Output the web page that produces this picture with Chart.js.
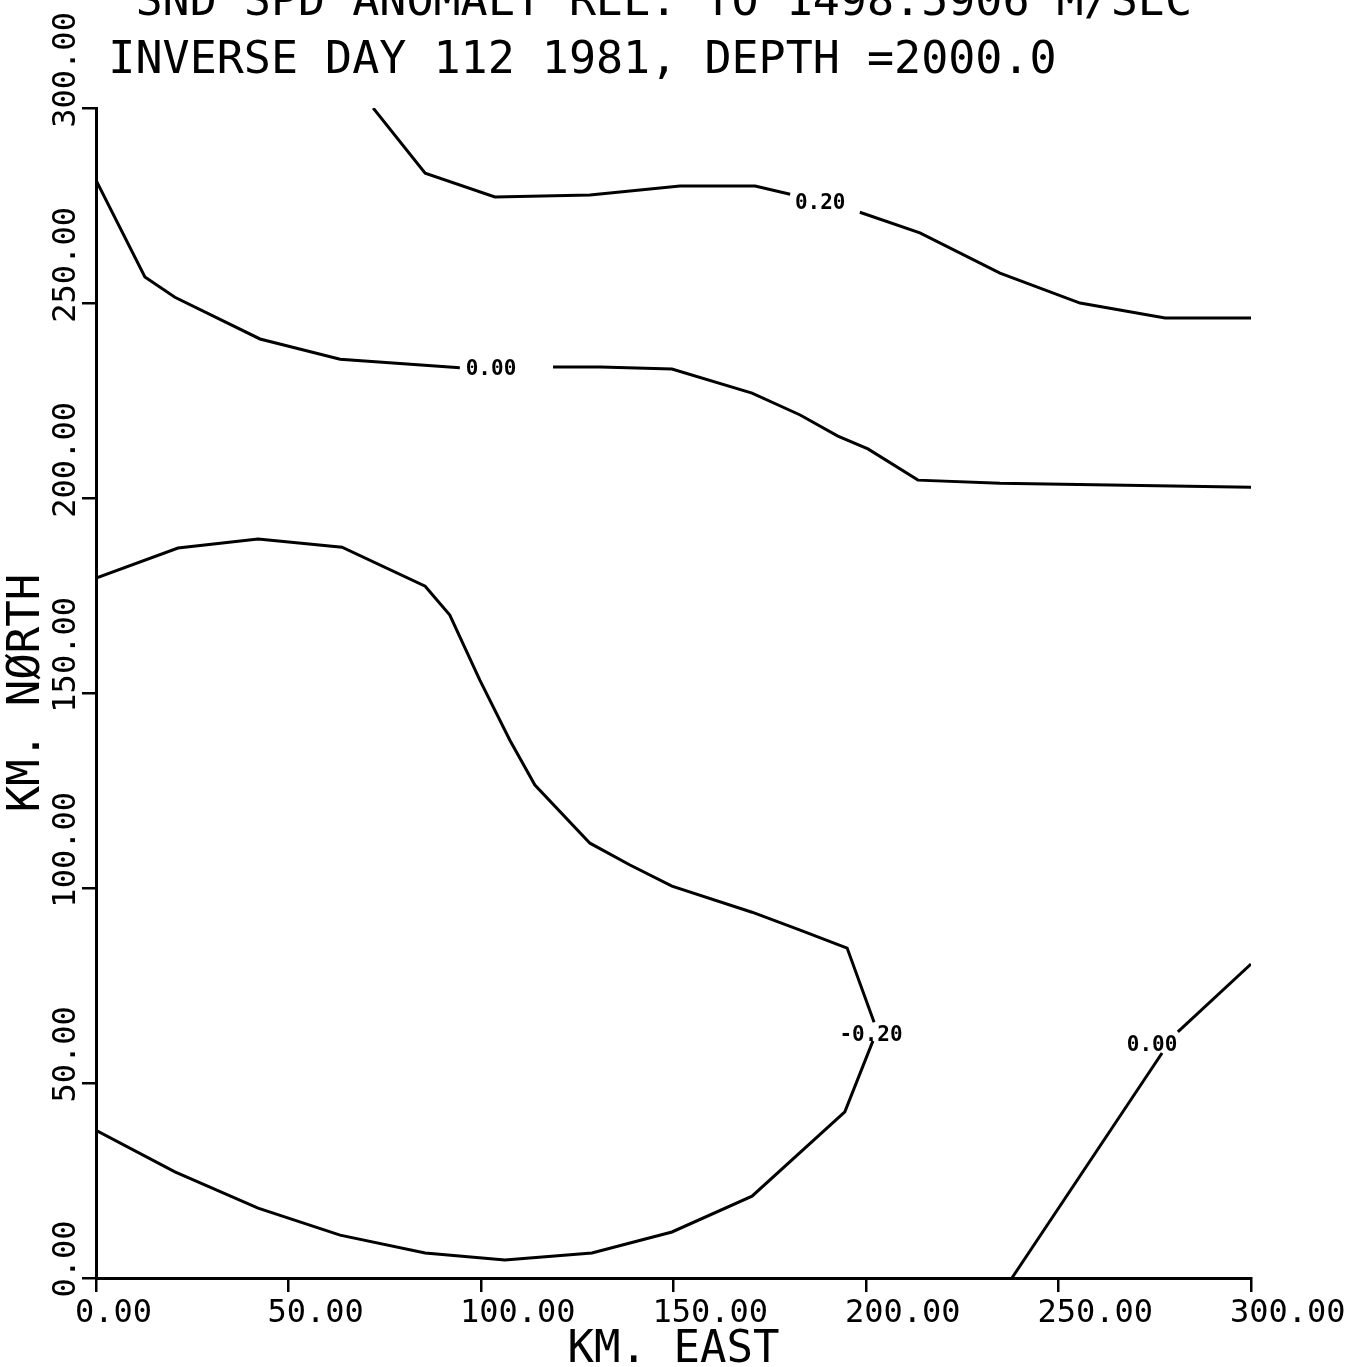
<!DOCTYPE html>
<html><head><meta charset="utf-8">
<script src="https://cdn.jsdelivr.net/npm/chart.js@4.4.1/dist/chart.umd.min.js"></script>
<style>
html,body{margin:0;padding:0;background:#fff;overflow:hidden;width:1351px;height:1367px;}
#wrap{position:absolute;left:0;top:-30px;width:1351px;height:1397px;}
</style></head><body>
<div id="wrap"><canvas id="c"></canvas></div>
<script>
// ---- text ----
const titleLines = ['     SND SPD ANOMALY REL. TO 1498.5906 M/SEC', '    INVERSE DAY 112 1981, DEPTH =2000.0'];
const xAxisTitle = 'KM. EAST';
const yAxisTitle = 'KM. NØRTH';

// ---- ticks ----
const tickValues = [0, 50, 100, 150, 200, 250, 300];
const tickLabels = ['0.00', '50.00', '100.00', '150.00', '200.00', '250.00', '300.00'];

// ---- contour lines [km east, km north], split where the level label sits ----
const c020a = [[72, 300], [85.5, 283.3], [103.6, 277.2], [128.3, 277.7], [151.7, 280.0], [171.2, 280.0], [180.3, 277.9]];
const c020b = [[198.4, 273.3], [214.0, 268.0], [234.8, 257.7], [255.6, 250.0], [277.7, 246.2], [300, 246.2]];

const c000a = [[0, 281.5], [12.7, 256.7], [20.5, 251.5], [42.6, 240.8], [63.4, 235.6], [94.5, 233.4]];
const c000b = [[118.7, 233.6], [131.0, 233.6], [149.6, 233.1], [170.4, 226.9], [182.9, 221.3], [192.7, 215.9], [200.5, 212.6], [213.5, 204.6], [234.8, 203.8], [300, 202.8]];

const cm020a = [[0, 179.5], [21.3, 187.2], [42.1, 189.5], [63.9, 187.4], [85.5, 177.4], [91.9, 170.0], [99.7, 153.3], [107.5, 137.9], [114.0, 126.4], [128.3, 111.5], [138.7, 105.9], [149.6, 100.5], [170.4, 93.8], [182.9, 89.2], [195.1, 84.6], [202.1, 65.6]];
const cm020b = [[201.8, 60.8], [194.5, 42.6], [170.4, 21.0], [149.6, 11.8], [128.8, 6.4], [106.2, 4.6], [85.5, 6.4], [63.4, 11.0], [42.1, 17.9], [20.5, 27.2], [0, 37.9]];

const c000ra = [[237.9, 0], [276.9, 57.7]];
const c000rb = [[281.0, 63.1], [300, 80.5]];

// ---- contour level labels ----
const levelText = ['0.20', '0.00', '-0.20', '0.00'];
const levelX = [188.1, 102.6, 201.3, 274.3];
const levelY = [275.4, 232.9, 62.2, 59.7];

const segments = [c020a, c020b, c000a, c000b, cm020a, cm020b, c000ra, c000rb];

const MONO = '"DejaVu Sans Mono", "Liberation Mono", monospace';

const levelLabelPlugin = {
  id: 'levelLabels',
  afterDatasetsDraw(chart) {
    const {ctx, scales: {x, y}} = chart;
    ctx.save();
    ctx.fillStyle = '#000';
    ctx.font = 'bold 21px ' + MONO;
    ctx.textAlign = 'center';
    ctx.textBaseline = 'middle';
    levelText.forEach((t, i) => {
      ctx.fillText(t, x.getPixelForValue(levelX[i]), y.getPixelForValue(levelY[i]));
    });
    ctx.restore();
  }
};

function labelFor(v) {
  const i = tickValues.indexOf(v);
  return i >= 0 ? tickLabels[i] : '';
}

new Chart(document.getElementById('c'), {
  type: 'scatter',
  data: {
    datasets: segments.map(seg => ({
      data: seg.map(p => ({x: p[0], y: p[1]})),
      showLine: true,
      borderColor: '#000',
      borderWidth: 3,
      pointRadius: 0,
      pointHoverRadius: 0,
      fill: false,
      tension: 0
    }))
  },
  options: {
    responsive: true,
    maintainAspectRatio: false,
    animation: false,
    events: [],
    layout: {padding: {left: 0, right: 100, top: 0, bottom: 0}},
    plugins: {
      legend: {display: false},
      tooltip: {enabled: false},
      title: {
        display: true,
        text: titleLines,
        align: 'start',
        color: '#000',
        font: {family: MONO, size: 45, weight: 'normal', lineHeight: 1.29},
        padding: {top: 4, bottom: 18}
      }
    },
    scales: {
      x: {
        type: 'linear',
        min: 0, max: 300,
        afterBuildTicks: s => { s.ticks = tickValues.map(v => ({value: v})); },
        afterFit: s => { s.height = 89; s.paddingLeft = 0; s.paddingRight = 0; },
        border: {display: true, color: '#000', width: 3},
        grid: {display: true, drawOnChartArea: false, drawTicks: true, tickLength: 14, color: '#000', lineWidth: 2.5},
        ticks: {
          callback: v => labelFor(v),
          align: 'start',
          labelOffset: -21,
          padding: 6,
          maxRotation: 0, minRotation: 0,
          color: '#000',
          font: {family: MONO, size: 32, lineHeight: 1.0}
        },
        title: {
          display: true, text: xAxisTitle, color: '#000',
          font: {family: MONO, size: 44, lineHeight: 1.0},
          padding: {top: 0, bottom: -6}
        }
      },
      y: {
        type: 'linear',
        min: 0, max: 300,
        afterBuildTicks: s => { s.ticks = tickValues.map(v => ({value: v})); },
        afterFit: s => { s.width = 96; s.paddingTop = 0; s.paddingBottom = 0; },
        border: {display: true, color: '#000', width: 3},
        grid: {display: true, drawOnChartArea: false, drawTicks: true, tickLength: 14, color: '#000', lineWidth: 2.5},
        ticks: {
          callback: v => labelFor(v).padEnd(6, ' '),
          minRotation: 90, maxRotation: 90,
          labelOffset: -96,
          padding: 15,
          color: '#000',
          font: {family: MONO, size: 32, lineHeight: 1.0}
        },
        title: {
          display: true, text: yAxisTitle, color: '#000',
          font: {family: MONO, size: 44, lineHeight: 1.0},
          padding: {top: 6, bottom: 0}
        }
      }
    }
  },
  plugins: [levelLabelPlugin]
});
</script>
</body></html>
